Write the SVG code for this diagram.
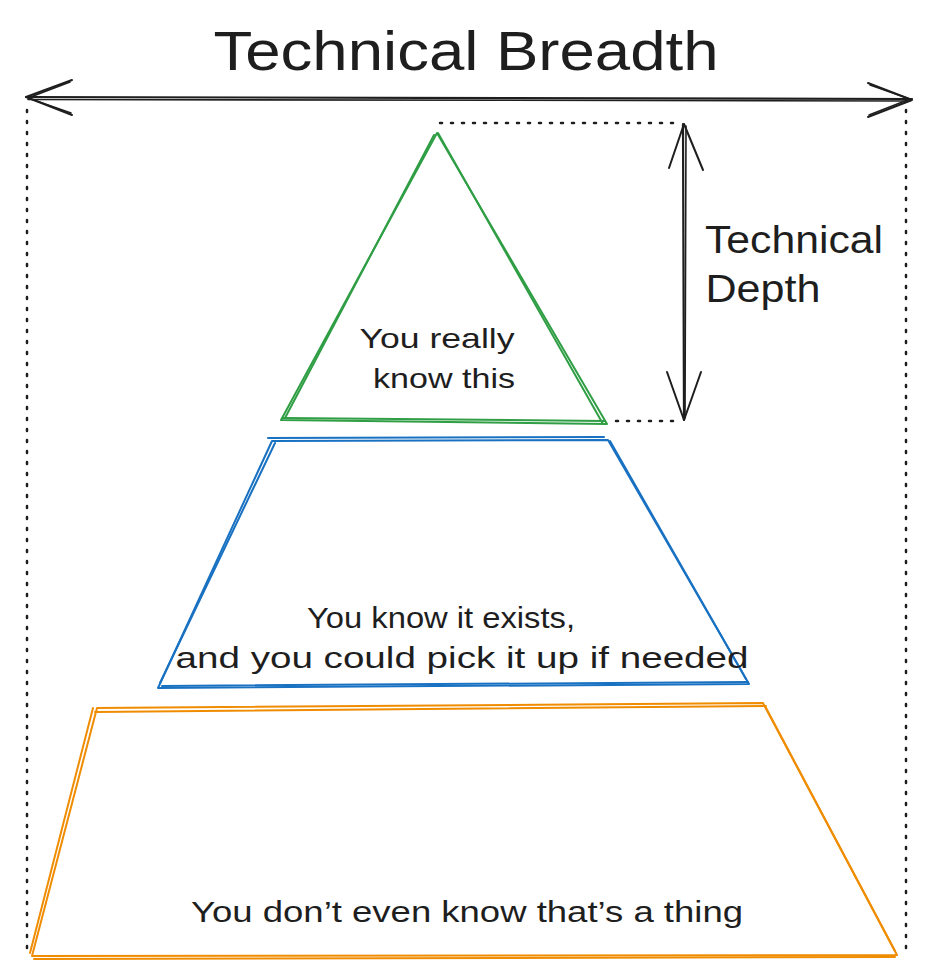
<svg xmlns="http://www.w3.org/2000/svg" width="935" height="980" viewBox="0 0 935 980">
<style>
.t{font-family:"Liberation Sans","DejaVu Sans",sans-serif;fill:#1e1e1e;text-anchor:middle}
.ink{fill:none;stroke:#1e1e1e;stroke-linecap:round;stroke-linejoin:round}
.dot{fill:none;stroke:#1e1e1e;stroke-width:2.5;stroke-dasharray:2 9;stroke-linecap:round}
.g{fill:none;stroke:#2f9e44;stroke-width:2;stroke-linejoin:round;stroke-linecap:round}
.b{fill:none;stroke:#1971c2;stroke-width:2;stroke-linejoin:round;stroke-linecap:round}
.o{fill:none;stroke:#f08c00;stroke-width:2;stroke-linejoin:round;stroke-linecap:round}
</style>
<rect width="935" height="980" fill="#ffffff"/>
<g id="connectors">
  <g id="breadth-arrow">
    <path class="ink" stroke-width="2.2" d="M26 97 L912 99"/>
    <path class="ink" stroke-width="1.6" d="M28 99.5 L910 101"/>
    <path class="ink" stroke-width="2" d="M72 80 L26 97 L72 115"/>
    <path class="ink" stroke-width="1.5" d="M70 82 L28 98 L71 113"/>
    <path class="ink" stroke-width="2" d="M868 83 L912 100 L868 117"/>
    <path class="ink" stroke-width="1.5" d="M870 85 L910 99 L869 115"/>
  </g>
  <g id="depth-arrow">
    <path class="ink" stroke-width="2.2" d="M683 124 L684 420"/>
    <path class="ink" stroke-width="1.6" d="M686 126 L685 418"/>
    <path class="ink" stroke-width="2" d="M669 168 L684 124 L703 170"/>
    <path class="ink" stroke-width="2" d="M667 372 L684 420 L701 372"/>
  </g>
  <path class="dot" d="M27 110 L27 950"/>
  <path class="dot" d="M906 110 L906 950"/>
  <path class="dot" d="M440 123 L680 123"/>
  <path class="dot" d="M616 421 L680 421"/>
</g>
<g id="title">
  <text class="t" x="466" y="70" font-size="56" textLength="505" lengthAdjust="spacingAndGlyphs">Technical Breadth</text>
</g>
<g id="depth-label">
  <text class="t" x="794" y="253" font-size="38" textLength="178" lengthAdjust="spacingAndGlyphs">Technical</text>
  <text class="t" x="763" y="302" font-size="38" textLength="115" lengthAdjust="spacingAndGlyphs">Depth</text>
</g>
<g id="green-triangle">
  <path class="g" d="M437 133 L281 420 L607 424 Z"/>
  <path class="g" stroke-width="1.4" d="M434 135 L285 418 M283 418 L605 421 M438 133 L603 424"/>
  <text class="t" x="437" y="348" font-size="28" textLength="155" lengthAdjust="spacingAndGlyphs">You really</text>
  <text class="t" x="444" y="388" font-size="28" textLength="142" lengthAdjust="spacingAndGlyphs">know this</text>
</g>
<g id="blue-trapezoid">
  <path class="b" d="M272 441 L608 440 L749 684 L158 688 Z"/>
  <path class="b" stroke-width="1.4" d="M268 438 L604 437 M275 443 L160 683 M610 441 L746 679 M162 686 L748 682"/>
  <text class="t" x="441" y="628" font-size="29" textLength="268" lengthAdjust="spacingAndGlyphs">You know it exists,</text>
  <text class="t" x="462" y="668" font-size="29" textLength="573" lengthAdjust="spacingAndGlyphs">and you could pick it up if needed</text>
</g>
<g id="orange-trapezoid">
  <path class="o" d="M97 708 L763 703 L897 955 L32 956 Z"/>
  <path class="o" stroke-width="1.4" d="M95 712 L766 706 M93 708 L30 953 M765 706 L895 951 M34 959 L895 957"/>
  <text class="t" x="467" y="922" font-size="29" textLength="552" lengthAdjust="spacingAndGlyphs">You don’t even know that’s a thing</text>
</g>
</svg>
